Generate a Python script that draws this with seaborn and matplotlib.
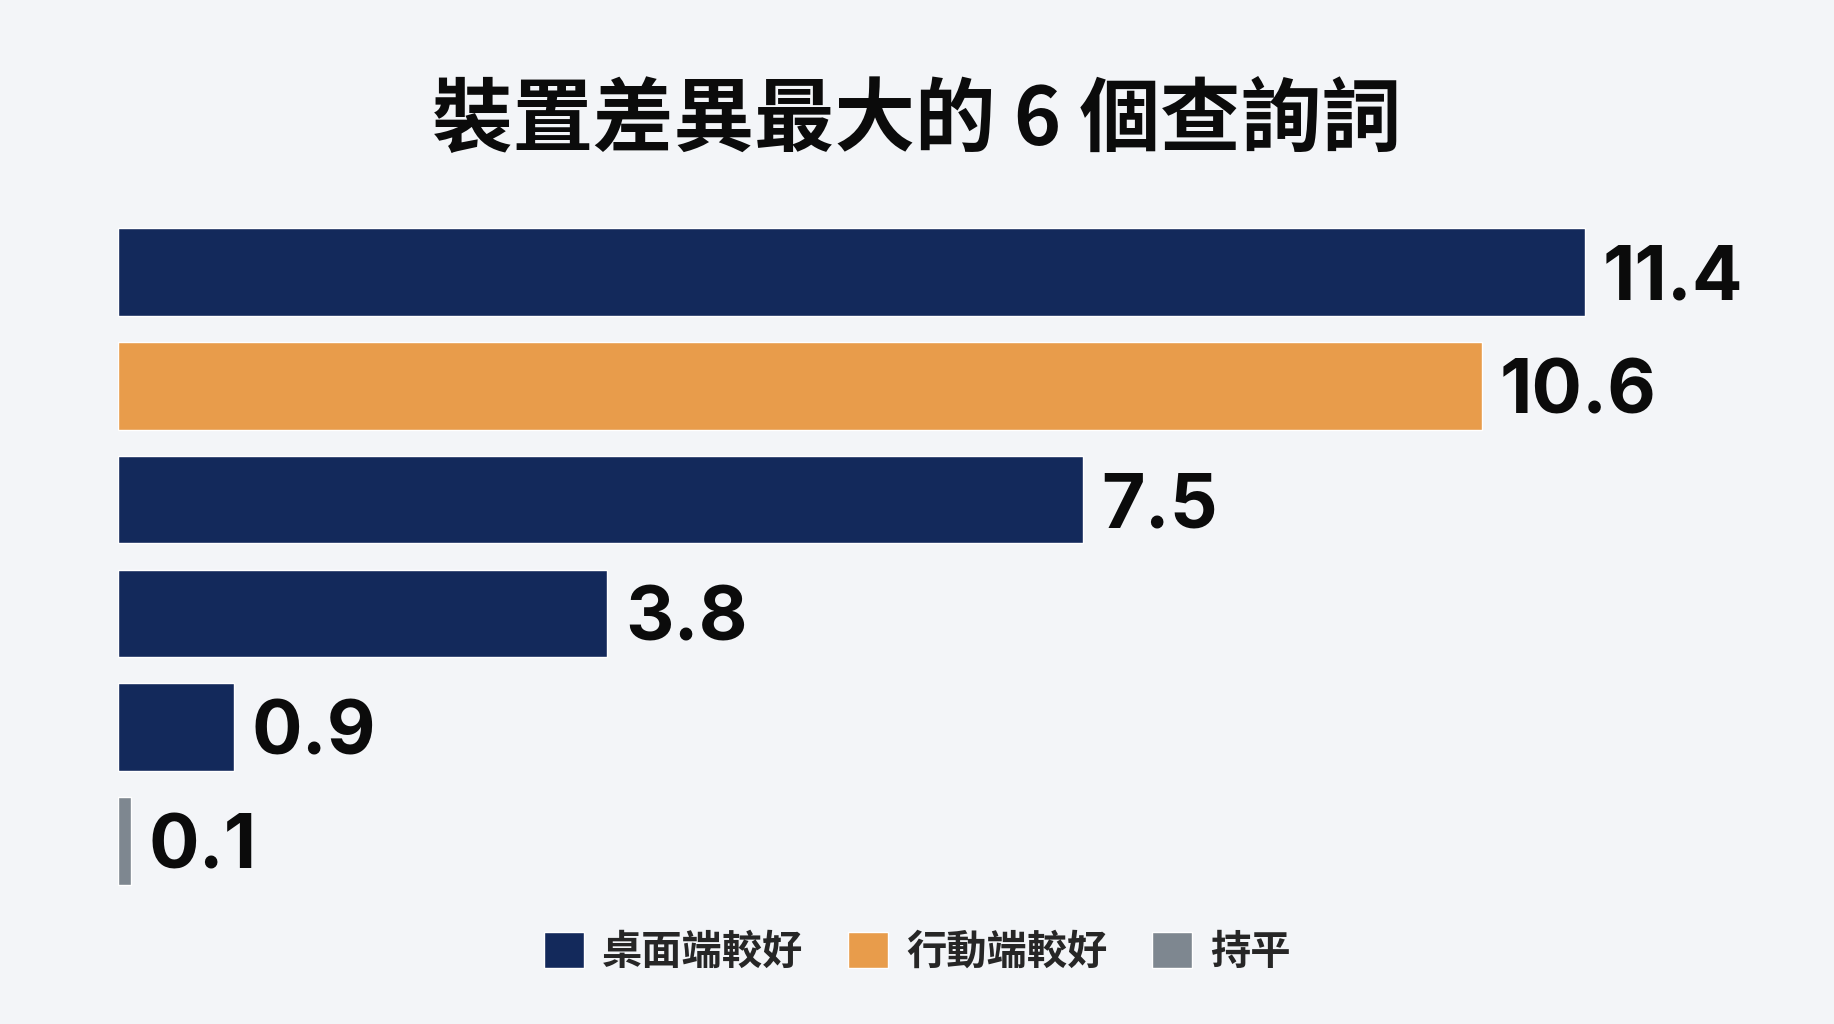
import matplotlib
matplotlib.use("Agg")
import matplotlib.pyplot as plt
import pandas as pd
import seaborn as sns

# data
queries = ["查詢詞 1", "查詢詞 2", "查詢詞 3", "查詢詞 4", "查詢詞 5", "查詢詞 6"]
diff = [11.4, 10.6, 7.5, 3.8, 0.9, 0.1]
better = ["桌面端較好", "行動端較好", "桌面端較好", "桌面端較好", "桌面端較好", "持平"]
legend_order = ["桌面端較好", "行動端較好", "持平"]
colors = {"桌面端較好": "#13295b", "行動端較好": "#e89c4b", "持平": "#7e8790"}

BG = "#f3f5f8"

sns.set_theme(style="white")
plt.rcParams["font.family"] = ["Noto Sans CJK TC", "DejaVu Sans"]

df = pd.DataFrame({"query": queries, "diff": diff, "better": better})

fig = plt.figure(figsize=(18.34, 10.24), dpi=100, facecolor=BG)
ax = fig.add_axes([118 / 1834, 0.123, 0.905, 0.667])
ax.set_facecolor(BG)

sns.barplot(data=df, x="diff", y="query", hue="better", hue_order=legend_order,
            palette=colors, dodge=False, width=0.77, saturation=1,
            legend=True, ax=ax)

ax.set_xlim(0, 12.9)
ax.set_ylim(5.5, -0.5)
for s in ax.spines.values():
    s.set_visible(False)
ax.set_xticks([])
ax.set_yticks([])
ax.set_xlabel("")
ax.set_ylabel("")

# value labels at the bar ends
for i, v in enumerate(diff):
    ax.text(v + 0.14, i + 0.07, f"{v:.1f}", va="center", ha="left",
            fontsize=54, fontweight="bold", family=["Inter", "DejaVu Sans"],
            color="#0b0b0b")

handles, labels = ax.get_legend_handles_labels()
ax.get_legend().remove()
fig.legend(handles, labels, loc="center", bbox_to_anchor=(0.5, 0.07),
           ncol=3, frameon=False, handlelength=1.0,
           handleheight=1.0, handletextpad=0.45, columnspacing=1.1,
           prop={"size": 29, "weight": "bold"})

fig.text(0.5, 0.881, "裝置差異最大的 6 個查詢詞", ha="center", va="center",
         fontsize=58, fontweight="bold", color="#0b0b0b")

fig.savefig("out.png", dpi=100, facecolor=BG)
